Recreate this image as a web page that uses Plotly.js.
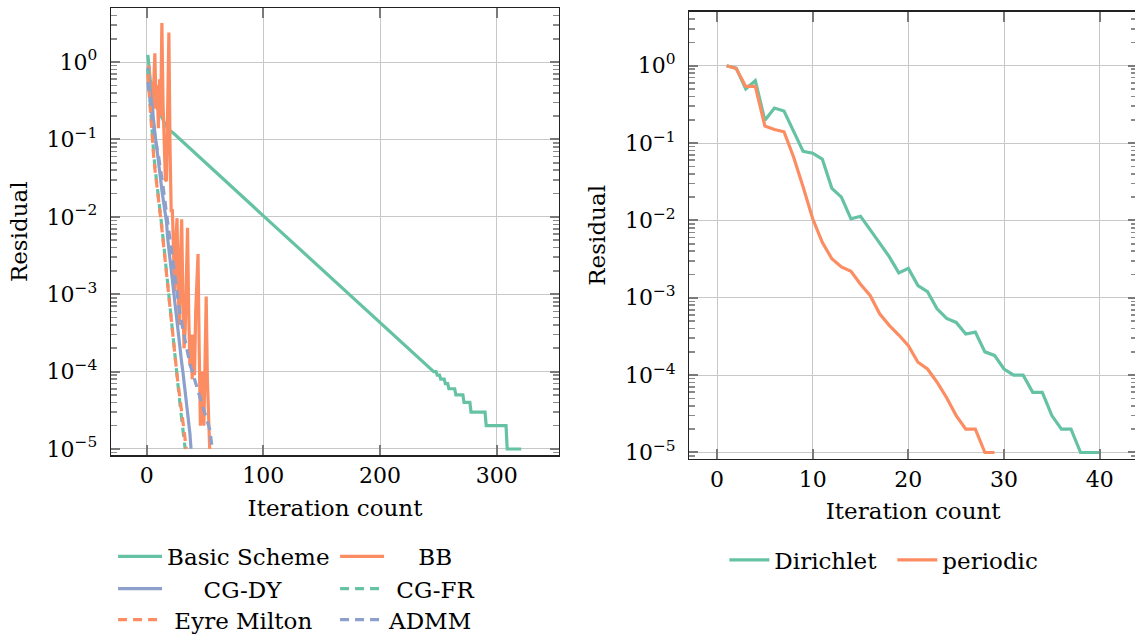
<!DOCTYPE html>
<html><head><meta charset="utf-8">
<script src="https://cdn.plot.ly/plotly-3.0.1.min.js"></script>
<style>html,body{margin:0;padding:0;overflow:hidden;background:#fff}</style>
</head><body><div id="chart" style="width:1138px;height:650px"></div>
<script>
// ---------- Left panel data ----------
const basicX = [1,2,3,4,6,8,10,13,16,19,23,100,150,200,225,246,248,249,251,252,255,256,258,259,264,265,271,272,277,278,290,291,308,309,321];
const basicY = [1.24,0.8,0.6,0.48,0.35,0.28,0.24,0.19,0.155,0.133,0.12,0.0103,0.0021,0.00042,0.00019,0.0001,0.0001,0.00009,0.00009,0.00008,0.00008,0.00007,0.00007,0.00006,0.00006,0.00005,0.00005,0.00004,0.00004,0.00003,0.00003,0.00002,0.00002,0.00001,0.00001];

const bbX = [1,2,3,4,5,6,7,8,9,10,11,12,13,14,15,16,17,18,19,20,21,22,23,24,25,26,27,28,29,30,31,32,33,34,35,36,37,38,39,40,41,42,43,44,45,46,47,48,49,50,51,52,53,54];
const bbY = [0.75,0.9,0.35,0.55,0.2,0.7,1.3,0.25,0.5,0.14,0.6,0.2,3.2,0.3,0.12,0.03,0.029,0.25,2.4,0.08,0.012,0.012,0.003,0.0011,0.005,0.0096,0.0012,0.0004,0.003,0.0093,0.0009,0.0002,0.00035,0.002,0.0072,0.0006,0.00012,0.0003,0.00008,0.0003,0.00009,0.0006,0.0015,0.0033,0.0002,0.00002,0.00003,0.0001,0.00002,0.00015,0.00093,0.00008,0.00003,0.00001];

const cgdyX = [1,2,3,4,5,6,7,8,9,10,11,12,13,14,15,16,17,18,19,20,21,22,23,24,25,26,27,28,29,30,31,32,33,34,35,36,37,38];
const cgdyY = [0.85,0.6,0.45,0.33,0.25,0.17,0.12,0.09,0.07,0.055,0.04,0.03,0.022,0.017,0.013,0.011,0.0085,0.0052,0.0038,0.0028,0.002,0.0014,0.001,0.00072,0.00055,0.0004,0.0003,0.00023,0.00017,0.00013,0.0001,0.000075,0.00006,0.000045,0.000033,0.000024,0.000016,0.00001];

const cgfrX = [1,2,3,4,5,6,7,8,9,10,11,12,13,14,15,16,17,18,19,20,21,22,23,24,25,26,27,28,29,30,31,32,33];
const cgfrY = [0.8,0.45,0.27,0.16,0.1,0.065,0.045,0.032,0.024,0.018,0.014,0.01,0.0075,0.0053,0.0037,0.0025,0.0017,0.0012,0.00085,0.0006,0.00042,0.0003,0.00021,0.00015,0.00011,0.00008,0.00006,0.000045,0.000033,0.000024,0.000017,0.000012,0.00001];

const eyreX = [1,2,3,4,5,6,7,8,9,10,11,12,13,14,15,16,17,18,19,20,21,22,23,24,25,26,27,28,29,30,31,32,33,34];
const eyreY = [0.7,0.4,0.24,0.15,0.09,0.06,0.042,0.03,0.022,0.017,0.013,0.0095,0.007,0.005,0.0035,0.0024,0.0016,0.0011,0.0008,0.0006,0.00043,0.0003,0.00022,0.00016,0.00012,0.00009,0.000068,0.000052,0.00004,0.00003,0.000022,0.000016,0.000012,0.00001];

const admmX = [1,3,5,7,10,12,14,17,20,23,26,28,31,34,37,40,44,47,51,54,56];
const admmY = [0.55,0.32,0.18,0.11,0.063,0.042,0.025,0.011,0.005,0.0022,0.001,0.00063,0.00035,0.00021,0.000126,0.000089,0.000056,0.00004,0.000026,0.000018,0.0000107];

// ---------- Right panel data ----------
const dirX = [1,2,3,4,5,6,7,8,9,10,11,12,13,14,15,16,17,18,19,20,21,22,23,24,25,26,27,28,29,30,31,32,33,34,35,36,37,38,39,40];
const dirY = [1.0,0.93,0.5,0.64,0.197,0.284,0.26,0.142,0.078,0.074,0.062,0.026,0.02,0.0105,0.0113,0.0076,0.005,0.0034,0.0021,0.0024,0.00144,0.0012,0.00072,0.00054,0.00048,0.00034,0.00036,0.0002,0.00018,0.00012,0.0001,0.0001,0.00006,0.00006,0.00003,0.00002,0.00002,0.00001,0.00001,0.00001];

const perX = [1,2,3,4,5,6,7,8,9,10,11,12,13,14,15,16,17,18,19,20,21,22,23,24,25,26,27,28,29];
const perY = [1.0,0.92,0.54,0.54,0.166,0.15,0.14,0.066,0.027,0.0105,0.0052,0.0032,0.0025,0.0022,0.0015,0.00107,0.00062,0.00044,0.00033,0.00024,0.000147,0.00012,0.000081,0.000051,0.00003,0.00002,0.00002,0.00001,0.00001];

// ---------- Tick labels ----------
const yTickVals = [1e-5,1e-4,1e-3,1e-2,1e-1,1];
const yTickText = ['10<sup>\u22125</sup>','10<sup>\u22124</sup>','10<sup>\u22123</sup>','10<sup>\u22122</sup>','10<sup>\u22121</sup>','10<sup>0</sup>'];
const xTickLeft = [0,100,200,300];
const xTickRight = [0,10,20,30,40];

// ---------- Styling ----------
const TEAL = '#66c2a5', ORANGE = '#fc8d62', BLUE = '#8da0cb';
const FONT = 'DejaVu Serif';
const LW = 3.2;
const DASH = '9px,6px';
const NB = '\u00a0';

const minorVals = [];
for (let e = -6; e <= 0; e++) for (let m = 2; m <= 9; m++) minorVals.push(m * Math.pow(10, e));

function tr(x, y, name, color, dash, legend, xa, ya) {
  return {x: x, y: y, name: name, type: 'scatter', mode: 'lines',
    line: {color: color, width: LW, dash: dash || 'solid'},
    xaxis: xa, yaxis: ya, legend: legend, hoverinfo: 'skip'};
}

const data = [
  tr(basicX, basicY, 'Basic Scheme', TEAL, null, 'legend', 'x', 'y'),
  tr(bbX, bbY, NB.repeat(4) + 'BB', ORANGE, null, 'legend', 'x', 'y'),
  tr(cgdyX, cgdyY, NB.repeat(5) + 'CG-DY', BLUE, null, 'legend2', 'x', 'y'),
  tr(cgfrX, cgfrY, NB + 'CG-FR', TEAL, DASH, 'legend2', 'x', 'y'),
  tr(eyreX, eyreY, NB + 'Eyre Milton', ORANGE, DASH, 'legend3', 'x', 'y'),
  tr(admmX, admmY, 'ADMM', BLUE, DASH, 'legend3', 'x', 'y'),
  tr(dirX, dirY, 'Dirichlet', TEAL, null, 'legend4', 'x2', 'y2'),
  tr(perX, perY, 'periodic', ORANGE, null, 'legend4', 'x2', 'y2')
];

function xaxis(domain, range, ticks, anchor) {
  return {domain: domain, range: range, tickvals: ticks, ticktext: ticks.map(String), tickmode: 'array',
    showgrid: true, gridcolor: '#c8c8c8', gridwidth: 1, zeroline: false,
    showline: true, linecolor: '#222', linewidth: 1.3, mirror: 'allticks',
    ticks: 'inside', ticklen: 10, tickwidth: 2.2, tickcolor: '#7a7a7a',
    tickfont: {family: FONT, size: 22, color: '#000'}, ticklabelstandoff: 0, anchor: anchor,
    title: {text: 'Iteration count', font: {family: FONT, size: 23, color: '#000'}, standoff: 12}, automargin: false};
}
function yaxis(domain, anchor) {
  return {domain: domain, type: 'log', range: [-5.084, 0.698], tickmode: 'array', tickvals: yTickVals, ticktext: yTickText,
    showgrid: true, gridcolor: '#c8c8c8', gridwidth: 1, zeroline: false,
    showline: true, linecolor: '#222', linewidth: 1.3, mirror: 'allticks',
    ticks: 'inside', ticklen: 9, tickwidth: 2, tickcolor: '#7a7a7a',
    minor: {tickmode: 'array', tickvals: minorVals, ticks: 'inside', ticklen: 6, tickwidth: 1.6, tickcolor: '#8a8a8a', showgrid: false},
    tickfont: {family: FONT, size: 22, color: '#000'}, ticklabelstandoff: 8, anchor: anchor,
    title: {text: 'Residual', font: {family: FONT, size: 23, color: '#000'}, standoff: 12}, automargin: false};
}

function leg(x, y, ew, iw) {
  return {orientation: 'h', x: x, xanchor: 'left', y: y, yanchor: 'middle',
    font: {family: FONT, size: 23, color: '#000'}, bgcolor: 'rgba(0,0,0,0)', borderwidth: 0,
    itemwidth: iw, entrywidth: ew, entrywidthmode: 'pixels', tracegroupgap: 0};
}

const layout = {
  width: 1138, height: 650,
  font: {family: FONT, size: 23, color: '#000'},
  margin: {l: 111, r: 1, t: 8, b: 191, pad: 0},
  paper_bgcolor: '#fff', plot_bgcolor: '#fff',
  showlegend: true,
  xaxis: xaxis([0, 0.43665], [-30.6, 353.4], xTickLeft, 'y'),
  yaxis: yaxis([0.0078, 1], 'x'),
  xaxis2: xaxis([0.56365, 1], [-2.9, 43.9], xTickRight, 'y2'),
  yaxis2: yaxis([0, 0.9918], 'x2'),
  legend: leg(0.002, -0.2158, 163, 44),
  legend2: leg(0.002, -0.2876, 163, 44),
  legend3: leg(0.002, -0.3564, 163, 44),
  legend4: leg(0.5978, -0.224, 113, 40)
};

Plotly.newPlot('chart', data, layout, {displayModeBar: false, staticPlot: true});
</script>
</body></html>
